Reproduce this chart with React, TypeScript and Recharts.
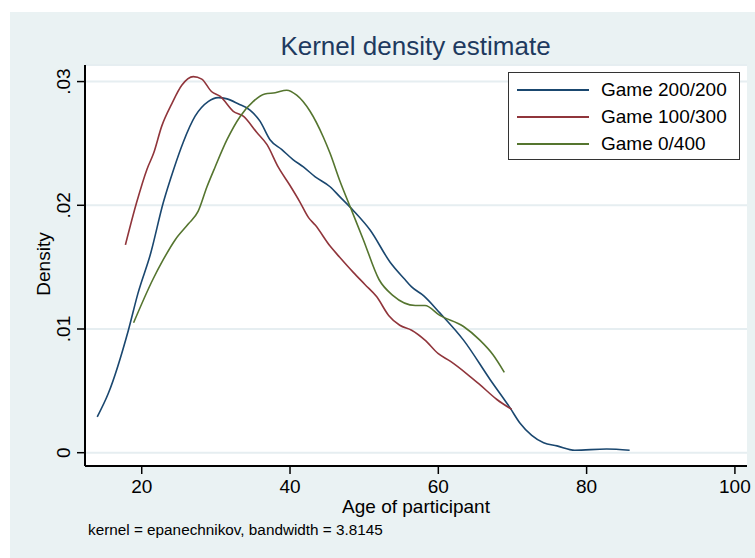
import { LineChart, Line, XAxis, YAxis, CartesianGrid, Legend } from 'recharts';

const xTicks = [20, 40, 60, 80, 100];
const yTicks = [0, 0.01, 0.02, 0.03];
const seriesNames = ['Game 200/200', 'Game 100/300', 'Game 0/400'];
const seriesColors = ['#1a476f', '#90353b', '#55752f'];

const ages200 = [14.0, 15.5, 18.2, 19.5, 21.2, 22.9, 24.3, 25.6, 27.2, 29.0, 30.3, 31.5, 33.0, 34.6, 35.95, 37.3, 38.9, 40.4, 41.8, 43.4, 45.4, 46.7, 48.5, 50.8, 53.5, 55.5, 56.4, 58.0, 60.2, 63.4, 67.0, 69.7, 71.0, 72.6, 74.2, 76.0, 78.4, 82.7, 85.8];
const density200 = [0.0029, 0.0048, 0.0099, 0.0129, 0.0161, 0.0202, 0.0229, 0.0251, 0.0272, 0.0284, 0.0287, 0.0286, 0.0282, 0.0277, 0.0268, 0.0253, 0.0245, 0.0237, 0.0231, 0.0223, 0.0215, 0.0207, 0.0196, 0.018, 0.0154, 0.014, 0.0134, 0.0127, 0.0113, 0.0091, 0.0059, 0.0036, 0.0024, 0.0014, 0.0008, 0.00055, 0.0002, 0.0003, 0.0002];

const ages100 = [17.8, 19.3, 20.7, 21.6, 22.7, 24.05, 25.4, 26.96, 28.1, 29.4, 30.6, 32.35, 33.7, 35.5, 36.9, 38.4, 40.0, 41.3, 42.5, 43.4, 45.4, 46.7, 48.5, 50.1, 51.7, 53.3, 54.8, 56.4, 58.2, 60.0, 61.6, 63.8, 65.6, 67.9, 69.9];
const density100 = [0.0168, 0.0202, 0.0229, 0.0242, 0.0264, 0.0282, 0.0297, 0.0304, 0.0302, 0.0292, 0.0288, 0.0276, 0.0272, 0.0259, 0.0249, 0.0231, 0.0216, 0.0203, 0.019, 0.0184, 0.0167, 0.0158, 0.0146, 0.0136, 0.0126, 0.0111, 0.0103, 0.0099, 0.0091, 0.008, 0.0074, 0.0064, 0.0055, 0.0043, 0.0035];

const ages0 = [18.9, 21.5, 22.9, 24.5, 26.3, 27.6, 28.8, 29.9, 31.5, 33.3, 35.05, 36.6, 38.0, 39.55, 40.9, 42.7, 44.5, 45.4, 46.7, 48.3, 49.9, 52.0, 53.9, 56.9, 58.2, 60.2, 63.4, 65.6, 67.4, 68.9];
const density0 = [0.0105, 0.014, 0.0156, 0.0172, 0.0185, 0.0195, 0.0215, 0.0231, 0.0253, 0.0272, 0.0284, 0.029, 0.0291, 0.0293, 0.0289, 0.0276, 0.0255, 0.0242, 0.022, 0.0196, 0.0172, 0.014, 0.0127, 0.0119, 0.0119, 0.0111, 0.0102, 0.0091, 0.0079, 0.0065];

const toPoints = (ages: number[], dens: number[]) => ages.map((age, i) => ({ age, density: dens[i] }));

const series = [
  toPoints(ages200, density200),
  toPoints(ages100, density100),
  toPoints(ages0, density0),
];

const font = '"Liberation Sans", Arial, Helvetica, sans-serif';

const fmtY = (v: number) => (v === 0 ? '0' : v.toFixed(2).replace(/^0/, ''));

const YTick = ({ y, payload }: any) => (
  <text x={60} y={y} transform={`rotate(-90, 60, ${y})`} textAnchor="middle" fontSize={19} fill="#000" fontFamily={font}>
    {fmtY(payload.value)}
  </text>
);

const LegendBox = () => (
  <div style={{ width: 232, height: 88, boxSizing: 'border-box', background: '#fff', border: '1px solid #333', paddingTop: 3 }}>
    {seriesNames.map((name, i) => (
      <div key={name} style={{ display: 'flex', alignItems: 'center', height: 27, fontFamily: font, fontSize: 19, color: '#000' }}>
        <div style={{ marginLeft: 8, width: 72, height: 2, background: seriesColors[i] }} />
        <span style={{ marginLeft: 12 }}>{name}</span>
      </div>
    ))}
  </div>
);

export default function App() {
  return (
    <div style={{ position: 'absolute', left: 10, top: 12, width: 745, height: 546, background: '#EAF2F3' }}>
      <LineChart width={745} height={546} margin={{ top: 53, right: 8, bottom: 52, left: 15 }}>
        <CartesianGrid vertical={false} fill="#fff" fillOpacity={1} stroke="#E6EEF1" strokeWidth={2} />
        <XAxis
          type="number"
          dataKey="age"
          domain={[12.35, 101.63]}
          ticks={xTicks}
          allowDataOverflow
          height={40}
          axisLine={{ stroke: '#000', strokeWidth: 2 }}
          tickLine={{ stroke: '#000', strokeWidth: 1.5 }}
          tickSize={8}
          tickMargin={6}
          tick={{ fill: '#000', fontSize: 19, fontFamily: font }}
        />
        <YAxis
          type="number"
          domain={[-0.001075, 0.03134]}
          ticks={yTicks}
          allowDataOverflow
          width={60}
          axisLine={{ stroke: '#000', strokeWidth: 2 }}
          tickLine={{ stroke: '#000', strokeWidth: 1.5 }}
          tickSize={8}
          tick={<YTick />}
        />
        <Legend
          layout="vertical"
          align="center"
          verticalAlign="middle"
          wrapperStyle={{ top: 60, left: 498, width: 232 }}
          content={<LegendBox />}
        />
        {series.map((data, i) => (
          <Line
            key={seriesNames[i]}
            data={data}
            dataKey="density"
            name={seriesNames[i]}
            type="monotone"
            stroke={seriesColors[i]}
            strokeWidth={1.6}
            dot={false}
            activeDot={false}
            isAnimationActive={false}
          />
        ))}
        <text x={405.5} y={43} textAnchor="middle" fontSize={26} fill="#1e3a5f" fontFamily={font}>
          Kernel density estimate
        </text>
        <text x={40} y={252} transform="rotate(-90, 40, 252)" textAnchor="middle" fontSize={19} fill="#000" fontFamily={font}>
          Density
        </text>
        <text x={406} y={501} textAnchor="middle" fontSize={19} fill="#000" fontFamily={font}>
          Age of participant
        </text>
        <text x={78} y={523} fontSize={15.3} fill="#000" fontFamily={font}>
          kernel = epanechnikov, bandwidth = 3.8145
        </text>
      </LineChart>
    </div>
  );
}
